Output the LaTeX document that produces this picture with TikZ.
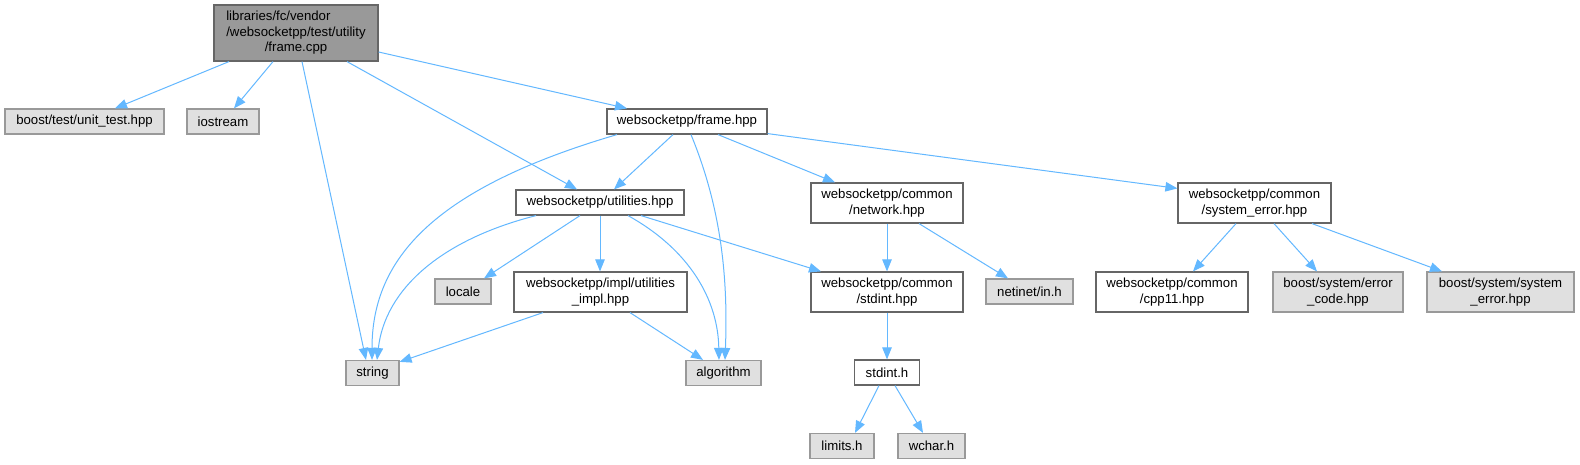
\documentclass[tikz,border=0pt]{standalone}
\usepackage{fontspec}
\setmainfont{Liberation Sans}
\usetikzlibrary{arrows.meta}
\definecolor{edgec}{HTML}{63B8FF}
\definecolor{extfill}{HTML}{E0E0E0}
\definecolor{extdraw}{HTML}{999999}
\definecolor{mainfill}{HTML}{999999}
\definecolor{nodedraw}{HTML}{666666}
\tikzset{
  base/.style={rectangle, inner sep=0pt, line width=1.2pt, align=center,
    font=\fontsize{13.2}{15.5}\selectfont},
  ext/.style={base, fill=extfill, draw=extdraw},
  loc/.style={base, fill=white, draw=nodedraw},
  root/.style={base, fill=mainfill, draw=nodedraw},
  box/.style 2 args={minimum width=#1pt, minimum height=#2pt},
  dep/.style={draw=edgec, line width=1pt, -{Triangle[length=12pt,width=9.5pt]}},
}
\begin{document}
\begin{tikzpicture}[x=1pt,y=-1pt]
\fill[white] (0,0) rectangle (1580,465);
\useasboundingbox (0,0) rectangle (1580,465);

% nodes
\node[root, box={164}{56}] (main) at (296,33)
  {\begin{tabular}{@{}l@{}}libraries/fc/vendor\\/websocketpp/test/utility\\\multicolumn{1}{@{}c@{}}{/frame.cpp}\end{tabular}};
\node[ext, box={159}{25}] (boosttest) at (84.5,121.5) {boost/test/unit\_test.hpp};
\node[ext, box={72}{25}] (iostream) at (223,121.5) {iostream};
\node[loc, box={160}{25}] (frame) at (687,121.5) {websocketpp/frame.hpp};
\node[loc, box={168}{25}] (util) at (600,202.5) {websocketpp/utilities.hpp};
\node[loc, box={152}{40}] (network) at (887,203) {websocketpp/common\\/network.hpp};
\node[loc, box={153}{40}] (syserr) at (1254.5,203) {websocketpp/common\\/system\_error.hpp};
\node[ext, box={56}{25}] (locale) at (463,291.5) {locale};
\node[loc, box={173}{40}] (impl) at (600.5,292) {websocketpp/impl/utilities\\\_impl.hpp};
\node[loc, box={152}{40}] (stdinthpp) at (887,292) {websocketpp/common\\/stdint.hpp};
\node[ext, box={87}{25}] (netinet) at (1029.5,291.5) {netinet/in.h};
\node[loc, box={152}{40}] (cpp11) at (1172,292) {websocketpp/common\\/cpp11.hpp};
\node[ext, box={130}{40}] (errcode) at (1338,292) {boost/system/error\\\_code.hpp};
\node[ext, box={147}{40}] (bsyserr) at (1500.5,292) {boost/system/system\\\_error.hpp};
\node[ext, box={53}{25}] (string) at (372.5,373) {string};
\node[ext, box={75}{25}] (algorithm) at (723.5,373) {algorithm};
\node[loc, box={65}{25}] (stdinth) at (887,372.5) {stdint.h};
\node[ext, box={64}{25}] (limits) at (842,446) {limits.h};
\node[ext, box={67}{25}] (wchar) at (931.5,446) {wchar.h};

% edges from main
\draw[dep] ([xshift=-67pt]main.south) -- ([xshift=30.5pt]boosttest.north);
\draw[dep] ([xshift=-23pt]main.south) -- ([xshift=11pt]iostream.north);
\draw[dep] ([xshift=6pt]main.south) -- ([xshift=-6.5pt]string.north);
\draw[dep] ([xshift=51pt]main.south) -- ([xshift=-23pt]util.north);
\draw[dep] ([yshift=-19pt]main.east) -- ([xshift=-60pt]frame.north);

% edges from frame
\draw[dep] ([xshift=-70pt]frame.south) .. controls (435,188) and (372,258) .. ([xshift=-0.5pt]string.north);
\draw[dep] ([xshift=-14pt]frame.south) -- ([xshift=14pt]util.north);
\draw[dep] ([xshift=4pt]frame.south) .. controls (722,210) and (728,280) .. ([xshift=1.5pt]algorithm.north);
\draw[dep] ([xshift=31pt]frame.south) -- ([xshift=-52pt]network.north);
\draw[dep] ([yshift=1pt]frame.south east) -- ([yshift=-6pt]syserr.north west);

% edges from utilities
\draw[dep] ([xshift=-64pt]util.south) .. controls (440,240) and (385,290) .. ([xshift=4.5pt]string.north);
\draw[dep] ([xshift=-20pt]util.south) -- ([xshift=21pt]locale.north);
\draw[dep] (util.south) -- (util.south |- impl.north);
\draw[dep] ([xshift=28pt]util.south) .. controls (690,250) and (718,300) .. ([xshift=-4.5pt]algorithm.north);
\draw[dep] ([xshift=41pt]util.south) -- ([xshift=-66pt]stdinthpp.north);

% edges from network
\draw[dep] (network.south) -- (stdinthpp.north);
\draw[dep] ([xshift=32pt]network.south) -- ([xshift=-21.5pt]netinet.north);

% stdint chain
\draw[dep] (stdinthpp.south) -- (stdinthpp.south |- stdinth.north);
\draw[dep] ([xshift=-8pt]stdinth.south) -- ([xshift=13pt]limits.north);
\draw[dep] ([xshift=8pt]stdinth.south) -- ([xshift=-8.5pt]wchar.north);

% edges from utilities_impl
\draw[dep] ([xshift=-57.5pt]impl.south) -- ([yshift=-2pt]string.north east);
\draw[dep] ([xshift=29.5pt]impl.south) -- ([xshift=-20.5pt]algorithm.north);

% edges from system_error
\draw[dep] ([xshift=-18.5pt]syserr.south) -- ([xshift=21pt]cpp11.north);
\draw[dep] ([xshift=19.5pt]syserr.south) -- ([xshift=-21pt]errcode.north);
\draw[dep] ([xshift=57.5pt]syserr.south) -- ([xshift=-58.5pt]bsyserr.north);
\end{tikzpicture}
\end{document}
